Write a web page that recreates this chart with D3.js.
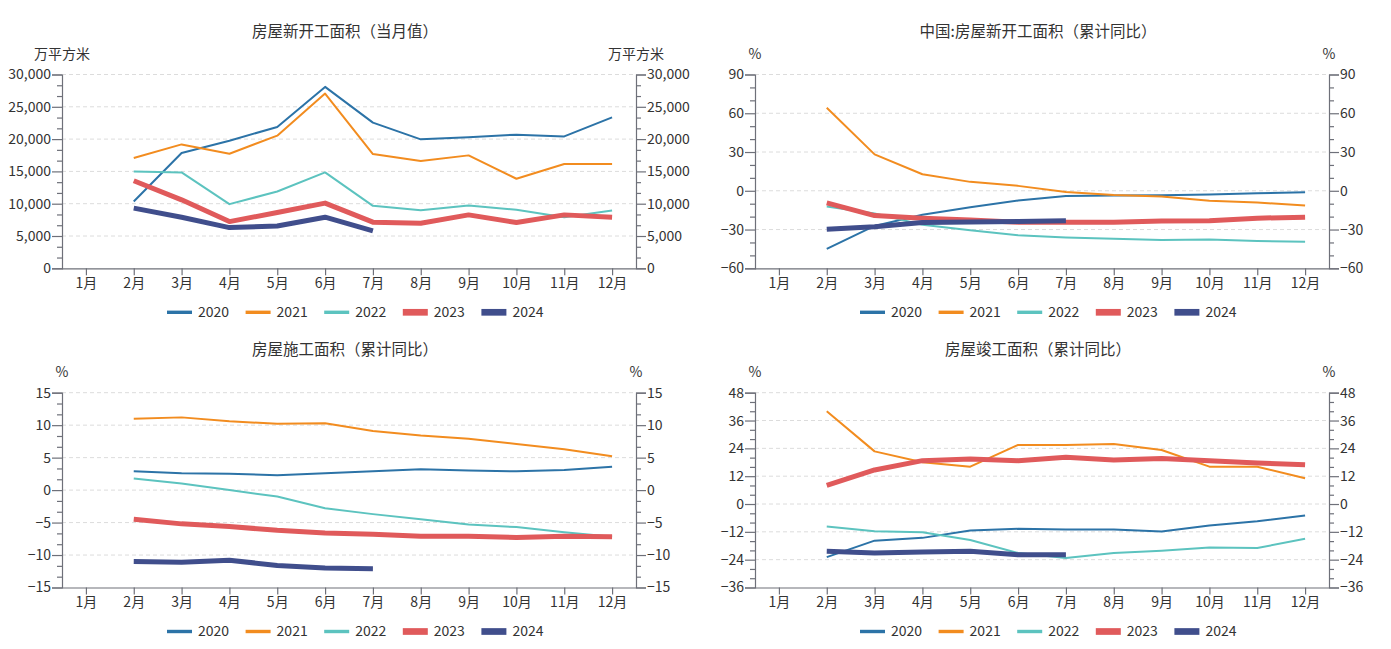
<!DOCTYPE html>
<html><head><meta charset="utf-8">
<script src="https://cdn.jsdelivr.net/npm/d3@7"></script>
<style>
html,body{margin:0;padding:0;background:#fff;}
svg{display:block;font-family:"Noto Sans CJK SC","Noto Sans",sans-serif;}
</style></head>
<body><svg id="c" width="1391" height="649"></svg>
<script>
// ---------- data ----------
const months = ["1月","2月","3月","4月","5月","6月","7月","8月","9月","10月","11月","12月"];
const years = ["2020","2021","2022","2023","2024"];
const yearColors = ["#2c73a7","#f28c1f","#5cc3bf","#e05a5b","#404e8c"];
const yearWidths = [2,2,2,5,5];

// 房屋新开工面积（当月值） 万平方米
const newStartMonthly2020 = [null,10330,17840,19750,21880,28080,22550,19960,20270,20690,20420,23370];
const newStartMonthly2021 = [null,17070,19180,17740,20530,27050,17690,16600,17480,13860,16140,16140];
const newStartMonthly2022 = [null,14990,14840,9930,11890,14840,9670,9000,9710,9050,7910,8940];
const newStartMonthly2023 = [null,13550,10600,7230,8630,10090,7140,6980,8270,7080,8270,7910];
const newStartMonthly2024 = [null,9310,7910,6300,6560,7910,5790,null,null,null,null,null];

// 中国:房屋新开工面积（累计同比） %
const newStartYoY2020 = [null,-44.9,-27.2,-18.6,-12.8,-7.6,-4.1,-3.6,-3.4,-2.8,-2.0,-1.2];
const newStartYoY2021 = [null,64.3,28.2,12.8,6.9,3.8,-0.9,-3.2,-4.5,-7.7,-9.1,-11.4];
const newStartYoY2022 = [null,-12.2,-17.5,-26.3,-30.6,-34.4,-36.1,-37.2,-38.0,-37.8,-38.9,-39.4];
const newStartYoY2023 = [null,-9.4,-19.2,-21.2,-22.6,-24.3,-24.3,-24.4,-23.4,-23.2,-21.2,-20.4];
const newStartYoY2024 = [null,-29.7,-27.8,-24.6,-24.2,-23.7,-23.2,null,null,null,null,null];

// 房屋施工面积（累计同比） %
const constructionYoY2020 = [null,2.9,2.6,2.5,2.3,2.6,2.9,3.2,3.0,2.9,3.1,3.6];
const constructionYoY2021 = [null,11.0,11.2,10.6,10.2,10.3,9.1,8.4,7.9,7.1,6.3,5.2];
const constructionYoY2022 = [null,1.8,1.0,0.0,-1.0,-2.8,-3.7,-4.5,-5.3,-5.7,-6.5,-7.2];
const constructionYoY2023 = [null,-4.5,-5.2,-5.6,-6.2,-6.6,-6.8,-7.1,-7.1,-7.3,-7.1,-7.2];
const constructionYoY2024 = [null,-11.0,-11.1,-10.8,-11.6,-12.0,-12.1,null,null,null,null,null];

// 房屋竣工面积（累计同比） %
const completionYoY2020 = [null,-22.9,-15.8,-14.6,-11.4,-10.7,-11.0,-11.0,-11.9,-9.3,-7.4,-5.0];
const completionYoY2021 = [null,40.0,22.7,18.0,16.1,25.5,25.5,25.9,23.3,16.1,16.1,11.1];
const completionYoY2022 = [null,-9.7,-11.7,-12.2,-15.5,-21.1,-23.3,-21.1,-20.1,-18.8,-19.0,-15.0];
const completionYoY2023 = [null,8.0,14.7,18.7,19.4,18.7,20.2,19.0,19.6,18.7,17.7,16.9];
const completionYoY2024 = [null,-20.4,-21.1,-20.7,-20.4,-21.9,-21.9,null,null,null,null,null];

// ---------- panels ----------
const panels = [
  {title:"房屋新开工面积（当月值）", unit:"万平方米", left:62, right:636, top:74.5, bottom:268.3,
   domain:[0,30000], step:5000, fmt:d3.format(","),
   series:[newStartMonthly2020,newStartMonthly2021,newStartMonthly2022,newStartMonthly2023,newStartMonthly2024]},
  {title:"中国:房屋新开工面积（累计同比）", unit:"%", left:755, right:1329, top:74.5, bottom:268.3,
   domain:[-60,90], step:30, fmt:d3.format("d"),
   series:[newStartYoY2020,newStartYoY2021,newStartYoY2022,newStartYoY2023,newStartYoY2024]},
  {title:"房屋施工面积（累计同比）", unit:"%", left:62, right:636, top:392.7, bottom:587.5,
   domain:[-15,15], step:5, fmt:d3.format("d"),
   series:[constructionYoY2020,constructionYoY2021,constructionYoY2022,constructionYoY2023,constructionYoY2024]},
  {title:"房屋竣工面积（累计同比）", unit:"%", left:755, right:1329, top:392.7, bottom:587.5,
   domain:[-36,48], step:12, fmt:d3.format("d"),
   series:[completionYoY2020,completionYoY2021,completionYoY2022,completionYoY2023,completionYoY2024]}
];

const svg = d3.select("#c");
const axisColor = "#6e7079";
const textColor = "#333";

panels.forEach(p => {
  const g = svg.append("g");
  const x = d3.scalePoint().domain(months).range([p.left, p.right]).padding(0.5);
  const y = d3.scaleLinear().domain(p.domain).range([p.bottom, p.top]);
  const majors = d3.range(p.domain[0], p.domain[1] + p.step/2, p.step);
  const minors = d3.range(p.domain[0], p.domain[1] + 1e-9, p.step/3).filter(v => !majors.some(m => Math.abs(m - v) < 1e-6));

  // title
  g.append("text").attr("x", (p.left + p.right)/2 - 4).attr("y", p.top - 38)
    .attr("text-anchor","middle").attr("font-size",15.5).attr("fill",textColor).text(p.title);
  // units
  [p.left, p.right].forEach(ax => {
    g.append("text").attr("x", ax).attr("y", p.top - 16).attr("text-anchor","middle")
      .attr("font-size",14).attr("fill",textColor).text(p.unit);
  });

  // grid
  g.selectAll(".grid").data(majors.filter(v => v !== p.domain[0])).join("line")
    .attr("x1", p.left).attr("x2", p.right).attr("y1", d => y(d)).attr("y2", d => y(d))
    .attr("stroke","#dcdcdc").attr("stroke-dasharray","4,3").attr("stroke-width",1);

  // y axes (left & right)
  const leftAxis = d3.axisLeft(y).tickValues(majors).tickFormat(p.fmt).tickSize(10).tickPadding(1);
  const rightAxis = d3.axisRight(y).tickValues(majors).tickFormat(p.fmt).tickSize(10).tickPadding(1);
  const la = g.append("g").attr("transform",`translate(${p.left},0)`).call(leftAxis);
  const ra = g.append("g").attr("transform",`translate(${p.right},0)`).call(rightAxis);
  const minorL = d3.axisLeft(y).tickValues(minors).tickFormat("").tickSize(5);
  const minorR = d3.axisRight(y).tickValues(minors).tickFormat("").tickSize(5);
  const mla = g.append("g").attr("transform",`translate(${p.left},0)`).call(minorL);
  const mra = g.append("g").attr("transform",`translate(${p.right},0)`).call(minorR);

  // x axis
  const xa = g.append("g").attr("transform",`translate(0,${p.bottom})`)
    .call(d3.axisBottom(x).tickSize(7).tickPadding(3).tickSizeOuter(0));
  xa.select(".domain").attr("d", `M${p.left},0.5H${p.right}`);

  [la, ra, mla, mra, xa].forEach(a => {
    a.select(".domain").attr("stroke", axisColor).attr("stroke-width",1.2);
    a.selectAll(".tick line").attr("stroke", axisColor).attr("stroke-width",1.2);
    a.selectAll(".tick text").attr("fill", textColor).attr("font-size",14)
      .attr("font-family",'"Noto Sans CJK SC","Noto Sans",sans-serif');
  });
  mla.select(".domain").remove(); mra.select(".domain").remove();

  // lines
  const line = d3.line().defined(d => d.v != null).x(d => x(d.m)).y(d => y(d.v));
  p.series.forEach((arr, i) => {
    g.append("path").datum(arr.map((v, j) => ({m: months[j], v})))
      .attr("d", line).attr("fill","none").attr("stroke", yearColors[i])
      .attr("stroke-width", yearWidths[i]).attr("stroke-linejoin","round");
  });

  // legend
  const lg = g.append("g").attr("transform",`translate(${p.left + 105},${p.bottom + 44})`);
  years.forEach((yr, i) => {
    const it = lg.append("g").attr("transform",`translate(${i*78.6},0)`);
    it.append("rect").attr("x",0).attr("y", -yearWidths[i]*0.55 - 0.6).attr("width",25)
      .attr("height", yearWidths[i]*1.1 + 1.2).attr("fill", yearColors[i]);
    it.append("text").attr("x",31).attr("y",0).attr("dy","0.35em").attr("font-size",14)
      .attr("fill",textColor).text(yr);
  });
});
</script></body></html>
